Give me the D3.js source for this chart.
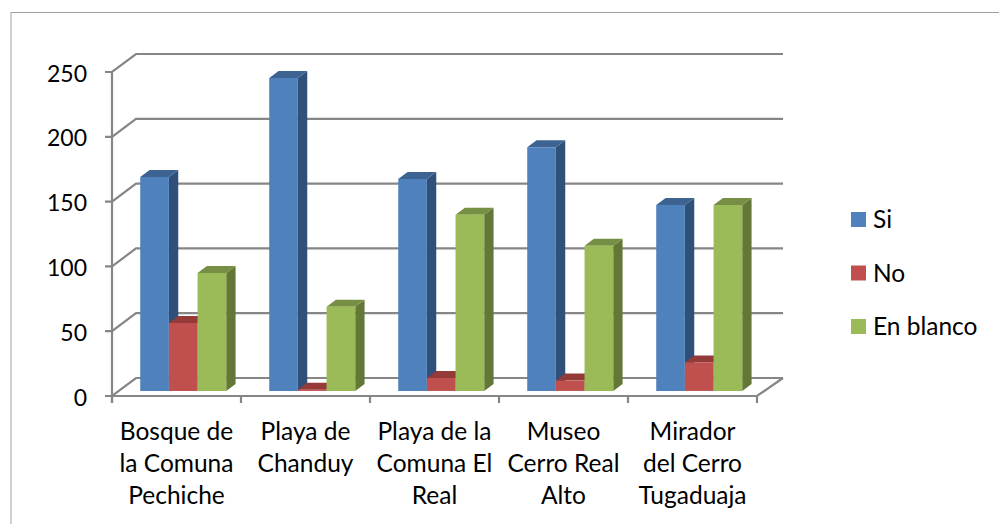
<!DOCTYPE html>
<html>
<head>
<meta charset="utf-8">
<script src="https://cdn.jsdelivr.net/npm/d3@7/dist/d3.min.js"></script>
<style>
  html, body { margin: 0; padding: 0; background: #fff; }
  svg { display: block; }
  text { font-family: Lato, sans-serif; fill: #000; }
</style>
</head>
<body>
<div class="main"></div>
<script>
//Data
const categories = ['Bosque de la Comuna Pechiche', 'Playa de Chanduy', 'Playa de la Comuna El Real', 'Museo Cerro Real Alto', 'Mirador del Cerro Tugaduaja'];
const categoryLines = [
  ['Bosque de', 'la Comuna', 'Pechiche'],
  ['Playa de', 'Chanduy'],
  ['Playa de la', 'Comuna El', 'Real'],
  ['Museo', 'Cerro Real', 'Alto'],
  ['Mirador', 'del Cerro', 'Tugaduaja']
];
const seriesNames = ['Si', 'No', 'En blanco'];
const si = [165, 241.5, 163.5, 188, 143.5];
const no = [52.5, 1, 10, 8, 22];
const enBlanco = [91, 65, 136, 112, 143.5];
const yTicks = [0, 50, 100, 150, 200, 250];

//Variables
const width = 999,
      height = 524,
      front = {left: 112, right: 757, top: 72, bottom: 396},
      depthX = 24,
      depthY = 18,
      backRight = 783,
      barNear = 0.28,
      barFar = 0.67,
      gridColor = '#868686';

const seriesValues = [si, no, enBlanco];
const faceColors = ['#4f81bd', '#c0504d', '#9bbb59'];
const topColors = ['#3d6392', '#943a38', '#768f44'];
const sideColors = ['#2f5078', '#7d2f2d', '#637837'];

//Create Canvas
const svg = d3.select('.main')
              .append('svg')
              .attr('width', width)
              .attr('height', height);

//Chart border, only top and left fall inside the picture
svg.append('rect')
   .attr('x', 11).attr('y', 12.5)
   .attr('width', 1100).attr('height', 700)
   .attr('fill', 'none')
   .attr('stroke', '#a0a0a0')
   .attr('stroke-width', 1);

//Create Scales
const yScale = d3.scaleLinear()
                 .domain([0, 250])
                 .range([front.bottom, front.top]);

const xScale = d3.scaleBand()
                 .domain(categories)
                 .range([front.left, front.right]);

const seriesScale = d3.scaleBand()
                      .domain(seriesNames)
                      .range([21.5, 107.5]);

//Grid on the back wall and the left wall
const grid = svg.append('g')
                .attr('fill', 'none')
                .attr('stroke', gridColor)
                .attr('stroke-width', 2.2);

yTicks.forEach(function(t) {
  const y = yScale(t);
  grid.append('path')
      .attr('d', `M${front.left - 7},${y}H${front.left}L${front.left + depthX},${y - depthY}H${backRight}`);
});

//Floor front edge, right edge and left axis
grid.append('path')
    .attr('d', `M${front.left},${yScale(0)}H${front.right}L${backRight},${yScale(0) - depthY}`);
grid.append('path')
    .attr('d', `M${front.left},${yScale(250)}V${yScale(0) + 7}`);

//Category ticks sit on the band edges
categories.concat(['end']).forEach(function(c, i) {
  const x = front.left + i * xScale.bandwidth();
  grid.append('path').attr('d', `M${x},${yScale(0)}V${yScale(0) + 7}`);
});

//Bars, drawn left to right so each one covers the side of the previous one
function corner(x, v, t) {
  return [x + t * depthX, yScale(v) - t * depthY];
}

const bars = svg.append('g');

categories.forEach(function(cat, i) {
  seriesNames.forEach(function(name, s) {
    const v = seriesValues[s][i],
          x0 = xScale(cat) + seriesScale(name),
          x1 = x0 + seriesScale.bandwidth();

    const frontFace = [corner(x0, 0, barNear), corner(x1, 0, barNear), corner(x1, v, barNear), corner(x0, v, barNear)];
    const topFace = [corner(x0, v, barNear), corner(x1, v, barNear), corner(x1, v, barFar), corner(x0, v, barFar)];
    const sideFace = [corner(x1, 0, barNear), corner(x1, 0, barFar), corner(x1, v, barFar), corner(x1, v, barNear)];

    bars.append('polygon').attr('points', sideFace.join(' ')).attr('fill', sideColors[s]);
    bars.append('polygon').attr('points', topFace.join(' ')).attr('fill', topColors[s]);
    bars.append('polygon').attr('points', frontFace.join(' ')).attr('fill', faceColors[s]);
  });
});

//Y labels
const yAxis = svg.append('g')
                 .attr('transform', `translate(${front.left}, 0)`)
                 .call(d3.axisLeft(yScale).tickValues(yTicks).tickSize(0).tickPadding(25));
yAxis.select('.domain').remove();
yAxis.selectAll('text')
     .attr('dy', null)
     .attr('y', 9)
     .style('font-family', 'Lato, sans-serif')
     .style('font-size', '23px')
     .attr('fill', '#000');

//Category labels
categories.forEach(function(cat, i) {
  const label = svg.append('text')
                   .attr('text-anchor', 'middle')
                   .style('font-size', '24.5px');
  categoryLines[i].forEach(function(line, n) {
    label.append('tspan')
         .attr('x', xScale(cat) + xScale.bandwidth() / 2)
         .attr('y', 440 + n * 32)
         .text(line);
  });
});

//Legend
const legend = svg.append('g')
                  .selectAll('g')
                  .data(seriesNames)
                  .enter()
                  .append('g')
                  .attr('transform', (d, i) => `translate(851, ${212 + i * 53.5})`);

legend.append('rect')
      .attr('width', 15)
      .attr('height', 15)
      .attr('fill', (d, i) => faceColors[i]);

legend.append('text')
      .attr('x', 22)
      .attr('y', 16)
      .style('font-size', '24.5px')
      .text(d => d);
</script>
</body>
</html>
